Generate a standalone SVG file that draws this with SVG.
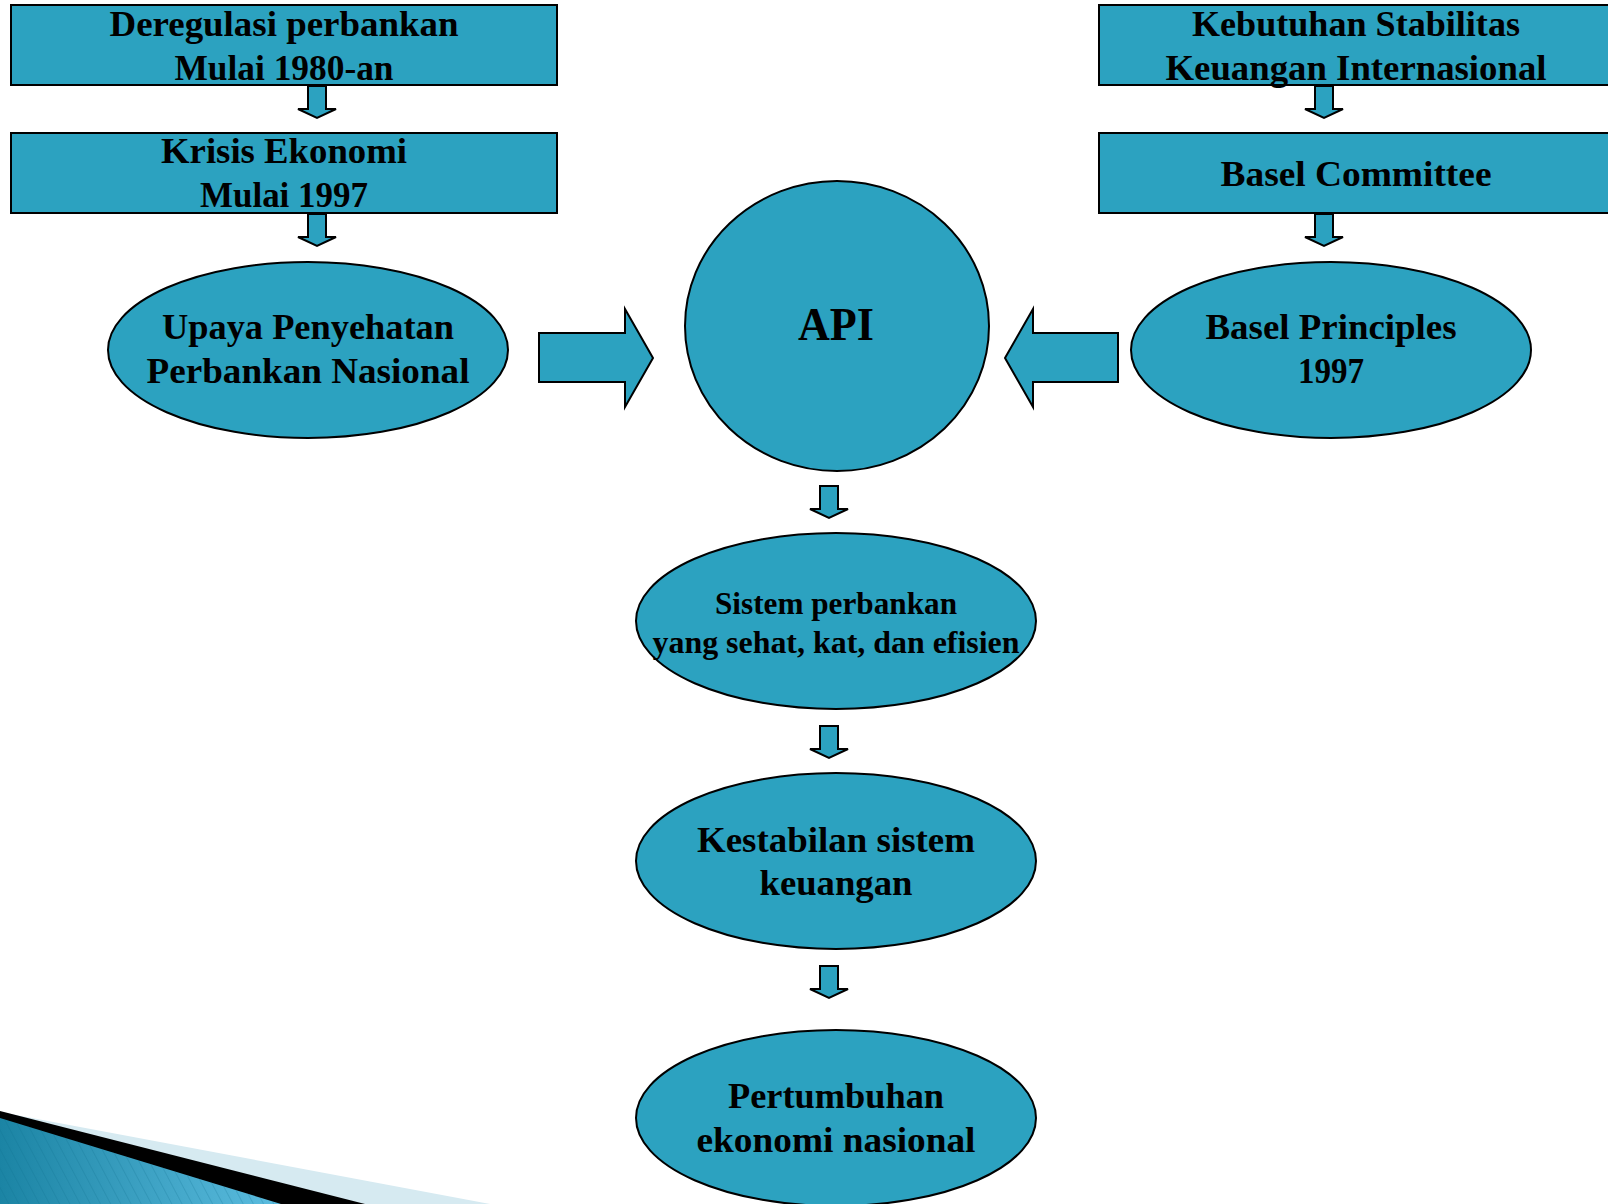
<svg xmlns="http://www.w3.org/2000/svg" width="1608" height="1204" viewBox="0 0 1608 1204">
  <defs>
    <style>
      .shape { fill: #2ca2c0; stroke: #000; stroke-width: 2; }
      .lbl { font-family: "Liberation Serif", "Times New Roman", serif; font-weight: bold; fill: #000; text-anchor: middle; }
      .big { font-size: 36px; }
      .mid { font-size: 31px; }
      .api { font-size: 47px; }
    </style>
    <polygon id="down" points="-9,0 9,0 9,23 19,23 0,32 -19,23 -9,23" class="shape"/>
    <linearGradient id="swoosh" x1="0" y1="0" x2="1" y2="0">
      <stop offset="0" stop-color="#1b84a4"/>
      <stop offset="1" stop-color="#5cbde0"/>
    </linearGradient>
    <pattern id="stripes" width="9" height="9" patternUnits="userSpaceOnUse" patternTransform="rotate(-28)">
      <rect width="9" height="9" fill="none"/>
      <line x1="0" y1="0" x2="0" y2="9" stroke="#0d6f8f" stroke-width="1" stroke-opacity="0.45"/>
    </pattern>
  </defs>

  <g id="decoration">
    <polygon points="0,1112 490,1204 0,1204" fill="#d6eaf1"/>
    <polygon points="0,1111 365,1204 0,1204" fill="#000"/>
    <polygon points="0,1118 281,1204 0,1204" fill="url(#swoosh)"/>
    <polygon points="0,1118 281,1204 0,1204" fill="url(#stripes)"/>
  </g>

  <g id="connectors">
    <use href="#down" x="317" y="86"/>
    <use href="#down" x="317" y="214"/>
    <use href="#down" x="1324" y="86"/>
    <use href="#down" x="1324" y="214"/>
    <use href="#down" x="829" y="486"/>
    <use href="#down" x="829" y="726"/>
    <use href="#down" x="829" y="966"/>
    <polygon class="shape" points="539,333 625,333 625,309 653,358 625,407 625,382 539,382"/>
    <polygon class="shape" points="1118,333 1033,333 1033,309 1005,358 1033,407 1033,382 1118,382"/>
  </g>

  <g id="node-deregulasi">
    <rect class="shape" x="11" y="5" width="546" height="80"/>
    <text class="lbl big" x="284" y="36" textLength="349" lengthAdjust="spacingAndGlyphs">Deregulasi perbankan</text>
    <text class="lbl big" x="284" y="80" textLength="219" lengthAdjust="spacingAndGlyphs">Mulai 1980-an</text>
  </g>

  <g id="node-krisis">
    <rect class="shape" x="11" y="133" width="546" height="80"/>
    <text class="lbl big" x="284" y="163" textLength="246" lengthAdjust="spacingAndGlyphs">Krisis Ekonomi</text>
    <text class="lbl big" x="284" y="207" textLength="168" lengthAdjust="spacingAndGlyphs">Mulai 1997</text>
  </g>

  <g id="node-kebutuhan">
    <rect class="shape" x="1099" y="5" width="520" height="80"/>
    <text class="lbl big" x="1356" y="36" textLength="328" lengthAdjust="spacingAndGlyphs">Kebutuhan Stabilitas</text>
    <text class="lbl big" x="1356" y="80" textLength="381" lengthAdjust="spacingAndGlyphs">Keuangan Internasional</text>
  </g>

  <g id="node-basel-committee">
    <rect class="shape" x="1099" y="133" width="520" height="80"/>
    <text class="lbl big" x="1356" y="186" textLength="271" lengthAdjust="spacingAndGlyphs">Basel Committee</text>
  </g>

  <g id="node-upaya">
    <ellipse class="shape" cx="308" cy="350" rx="200" ry="88"/>
    <text class="lbl big" x="308" y="339" textLength="292" lengthAdjust="spacingAndGlyphs">Upaya Penyehatan</text>
    <text class="lbl big" x="308" y="383" textLength="323" lengthAdjust="spacingAndGlyphs">Perbankan Nasional</text>
  </g>

  <g id="node-api">
    <ellipse class="shape" cx="837" cy="326" rx="152" ry="145"/>
    <text class="lbl api" x="836" y="340" textLength="76" lengthAdjust="spacingAndGlyphs">API</text>
  </g>

  <g id="node-basel-principles">
    <ellipse class="shape" cx="1331" cy="350" rx="200" ry="88"/>
    <text class="lbl big" x="1331" y="339" textLength="251" lengthAdjust="spacingAndGlyphs">Basel Principles</text>
    <text class="lbl big" x="1331" y="383" textLength="66" lengthAdjust="spacingAndGlyphs">1997</text>
  </g>

  <g id="node-sistem">
    <ellipse class="shape" cx="836" cy="621" rx="200" ry="88"/>
    <text class="lbl mid" x="836" y="614" textLength="242" lengthAdjust="spacingAndGlyphs">Sistem perbankan</text>
    <text class="lbl mid" x="836" y="653" textLength="367" lengthAdjust="spacingAndGlyphs">yang sehat, kat, dan efisien</text>
  </g>

  <g id="node-kestabilan">
    <ellipse class="shape" cx="836" cy="861" rx="200" ry="88"/>
    <text class="lbl big" x="836" y="852" textLength="278" lengthAdjust="spacingAndGlyphs">Kestabilan sistem</text>
    <text class="lbl big" x="836" y="895" textLength="153" lengthAdjust="spacingAndGlyphs">keuangan</text>
  </g>

  <g id="node-pertumbuhan">
    <ellipse class="shape" cx="836" cy="1118" rx="200" ry="88"/>
    <text class="lbl big" x="836" y="1108" textLength="216" lengthAdjust="spacingAndGlyphs">Pertumbuhan</text>
    <text class="lbl big" x="836" y="1152" textLength="279" lengthAdjust="spacingAndGlyphs">ekonomi nasional</text>
  </g>
</svg>
